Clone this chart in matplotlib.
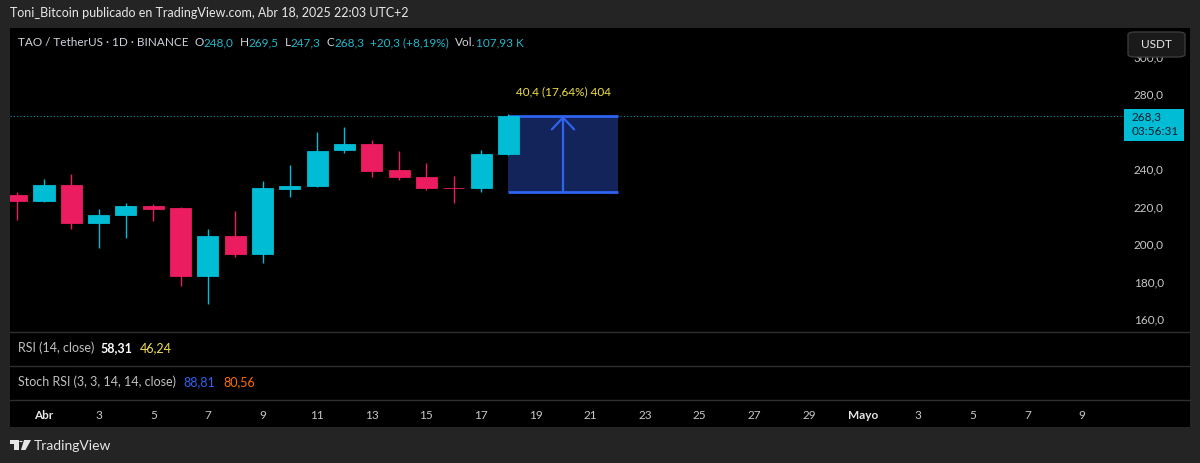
import matplotlib
matplotlib.use("Agg")
import matplotlib.pyplot as plt
import matplotlib.dates as mdates
from matplotlib.patches import Rectangle, FancyBboxPatch, Polygon, Circle
from matplotlib.transforms import blended_transform_factory

plt.rcParams['font.family'] = ['Lato', 'DejaVu Sans']

# daily candles TAO/USDT
dates = ['2025-03-31', '2025-04-01', '2025-04-02', '2025-04-03', '2025-04-04',
         '2025-04-05', '2025-04-06', '2025-04-07', '2025-04-08', '2025-04-09',
         '2025-04-10', '2025-04-11', '2025-04-12', '2025-04-13', '2025-04-14',
         '2025-04-15', '2025-04-16', '2025-04-17', '2025-04-18']
opens = [226.1, 222.9, 231.3, 211.0, 215.3, 220.3, 219.2, 183.1, 204.3, 194.5,
         229.2, 230.7, 250.0, 253.2, 239.3, 235.9, 229.9, 229.7, 248.0]
highs = [227.6, 234.7, 237.2, 218.8, 222.0, 221.3, 219.5, 208.0, 217.6, 233.8,
         242.0, 259.9, 262.4, 255.5, 249.8, 243.4, 236.3, 250.1, 269.5]
lows = [212.8, 222.5, 208.0, 198.0, 203.2, 212.4, 177.6, 168.0, 192.9, 190.0,
        225.1, 230.5, 248.4, 235.6, 234.1, 228.8, 221.7, 227.6, 247.3]
closes = [222.9, 231.3, 211.0, 215.3, 220.3, 218.7, 183.1, 204.3, 194.5, 229.9,
          230.9, 249.8, 253.2, 239.1, 235.7, 229.7, 229.7, 248.0, 268.3]

price_ticks = [160, 180, 200, 220, 240, 260, 280, 300]
tick_dates = ['2025-04-01', '2025-04-03', '2025-04-05', '2025-04-07', '2025-04-09',
              '2025-04-11', '2025-04-13', '2025-04-15', '2025-04-17', '2025-04-19',
              '2025-04-21', '2025-04-23', '2025-04-25', '2025-04-27', '2025-04-29',
              '2025-05-01', '2025-05-03', '2025-05-05', '2025-05-07', '2025-05-09']
tick_labels = ['Abr', '3', '5', '7', '9', '11', '13', '15', '17', '19',
               '21', '23', '25', '27', '29', 'Mayo', '3', '5', '7', '9']

# price range tool
measure_start, measure_end = '2025-04-18', '2025-04-22'
measure_low, measure_high = 227.9, 268.3
measure_text = '40,4 (17,64%) 404'

UP, DOWN = '#00bcd4', '#ec1c60'
W, H = 1200, 463
fig = plt.figure(figsize=(W / 100, H / 100), dpi=100)
fig.patch.set_facecolor('#242424')


def fx(x):
    return x / W


def fy(y):
    return 1 - y / H


def px_text(x, y, s, **kw):
    kw.setdefault('va', 'center')
    return fig.text(fx(x), fy(y), s, **kw)


def runs(x, y, parts, **kw):
    r = fig.canvas.get_renderer()
    for s, c, gap, wt in parts:
        t = px_text(x + gap, y, s, color=c, fontweight=wt, **kw)
        x = t.get_window_extent(r).x1


# black chart area
fig.patches.append(Rectangle((fx(10), fy(427)), fx(1180), 399 / H, transform=fig.transFigure,
                             facecolor='black', edgecolor='none', zorder=-1))

x = mdates.datestr2num(dates)
x0 = mdates.datestr2num('2025-04-01')
day_px = 27.316
xlim = (x0 - 34 / day_px, x0 + 1080 / day_px)

ax = fig.add_axes([fx(10), fy(332), fx(1114), 304 / H])
ax_rsi = fig.add_axes([fx(10), fy(366), fx(1114), 34 / H], sharex=ax)
ax_st = fig.add_axes([fx(10), fy(400), fx(1114), 34 / H], sharex=ax)
for a in (ax, ax_rsi, ax_st):
    a.set_facecolor('black')
    for s in a.spines.values():
        s.set_visible(False)
    a.tick_params(length=0)
ax.set_xlim(*xlim)
ax.set_ylim(280 - 238 / 1.875, 280 + 66 / 1.875)

# candles
for xi, o, h, l, c in zip(x, opens, highs, lows, closes):
    col = UP if c >= o else DOWN
    ax.vlines(xi, l, h, color=col, lw=1, zorder=3)
    ax.bar(xi, max(abs(c - o), 0.3), bottom=min(o, c), width=0.77, color=col,
           edgecolor=col, lw=0.6, zorder=4)

# measurement box
ms, me = mdates.datestr2num(measure_start), mdates.datestr2num(measure_end)
ax.add_patch(Rectangle((ms, measure_low), me - ms, measure_high - measure_low,
                       facecolor='#13245a', edgecolor='none', zorder=2))
ax.hlines([measure_low, measure_high], ms, me, color='#2f63f0', lw=2, zorder=2.5)
mid = (ms + me) / 2
ax.annotate('', xy=(mid, measure_high), xytext=(mid, measure_low),
            arrowprops=dict(arrowstyle='->,head_length=0.85,head_width=0.8', color='#2f63f0',
                            lw=1.6, shrinkA=0, shrinkB=0), zorder=2.6)
ax.text(mid, measure_high + 12.8, measure_text, color='#f2e14c', fontsize=8.5,
        ha='center', va='center')

# last price line
ax.axhline(closes[-1], color=UP, lw=0.8, ls=(0, (1, 2)), alpha=0.8, zorder=1)

# price axis (260 sits under the last price tag)
ax.yaxis.tick_right()
ax.set_yticks(price_ticks)
ax.set_yticklabels(['' if v == 260 else f'{v:.1f}'.replace('.', ',') for v in price_ticks])
ax.tick_params(axis='y', pad=7, labelcolor='#c8c8c8', labelsize=8.5)
ax.tick_params(axis='x', labelbottom=False)
ax_rsi.tick_params(labelbottom=False, labelleft=False)
ax_rsi.set_yticks([])
ax_st.set_yticks([])
ax_st.set_xticks(mdates.datestr2num(tick_dates))
ax_st.set_xticklabels(tick_labels)
ax_st.tick_params(axis='x', pad=7, labelcolor='#c8c8c8', labelsize=8.5)
for lab in ax_st.get_xticklabels():
    if lab.get_text() in ('Abr', 'Mayo'):
        lab.set_color('#e6e6e6')
        lab.set_fontweight('bold')

# last price tag
btr = blended_transform_factory(fig.transFigure, ax.transData)
tag = Rectangle((fx(1124), closes[-1] - 13.3), fx(60), 17.1, transform=btr,
                facecolor=UP, edgecolor='none', zorder=20, clip_on=False)
ax.add_patch(tag)
ax.text(fx(1132), closes[-1] - 0.5, f'{closes[-1]:.1f}'.replace('.', ','), transform=btr,
        color='#0d1b2a', fontsize=8.5, va='center', zorder=21, clip_on=False)
ax.text(fx(1132), closes[-1] - 8.5, '03:56:31', transform=btr,
        color='#0d1b2a', fontsize=8.5, va='center', zorder=21, clip_on=False)

# separators
for yy in (332, 366, 400):
    fig.add_artist(plt.Line2D([fx(10), fx(1190)], [fy(yy), fy(yy)], color='#2e2e2e', lw=1))

# USDT button
fig.patches.append(FancyBboxPatch((fx(1128), fy(57)), fx(57), 25 / H,
                                  boxstyle='round,pad=0,rounding_size=0.006',
                                  transform=fig.transFigure, facecolor='#1a1a1a',
                                  edgecolor='#3a3a3a', lw=1, zorder=5))
px_text(1156, 44, 'USDT', color='#e6e6e6', fontsize=8.5, ha='center', zorder=6)

# texts
px_text(10, 13, 'Toni_Bitcoin publicado en TradingView.com, Abr 18, 2025 22:03 UTC+2',
        color='#e8e8e8', fontsize=9)
g, c = '#d1d4dc', '#22b8cc'
runs(18, 43, [('TAO / TetherUS · 1D · BINANCE', g, 0, 'normal'), ('O', g, 6, 'normal'),
              ('248,0', c, 0, 'normal'), ('H', g, 6, 'normal'), ('269,5', c, 0, 'normal'),
              ('L', g, 6, 'normal'), ('247,3', c, 0, 'normal'), ('C', g, 6, 'normal'),
              ('268,3', c, 0, 'normal'), ('+20,3 (+8,19%)', c, 6, 'normal'),
              ('Vol.', g, 6, 'normal'), ('107,93 K', c, 0, 'normal')], fontsize=8.5)
runs(18, 348, [('RSI (14, close)', '#c0c0c0', 0, 'normal'), ('58,31', '#ffffff', 6, 'bold'),
               ('46,24', '#f2e14c', 8, 'normal')], fontsize=9)
runs(18, 382, [('Stoch RSI (3, 3, 14, 14, close)', '#c0c0c0', 0, 'normal'),
               ('88,81', '#2f63f0', 7, 'normal'), ('80,56', '#ff6d00', 9, 'normal')], fontsize=9)

# footer logo
lc = '#e6e6e6'
fig.patches.append(Polygon([(fx(9.5), fy(440)), (fx(18.5), fy(440)), (fx(18.5), fy(450)),
                            (fx(14), fy(450)), (fx(14), fy(443.5)), (fx(9.5), fy(443.5))],
                           closed=True, transform=fig.transFigure, facecolor=lc, edgecolor='none'))
fig.patches.append(Circle((fx(21), fy(441.5)), 1.7 / W, transform=fig.transFigure,
                          facecolor=lc, edgecolor='none'))
fig.patches.append(Polygon([(fx(24), fy(440)), (fx(31), fy(440)), (fx(25.5), fy(450)),
                            (fx(21), fy(450))], closed=True, transform=fig.transFigure,
                           facecolor=lc, edgecolor='none'))
px_text(34, 446, 'TradingView', color=lc, fontsize=10)

fig.savefig('out.png', dpi=100, facecolor=fig.get_facecolor())
